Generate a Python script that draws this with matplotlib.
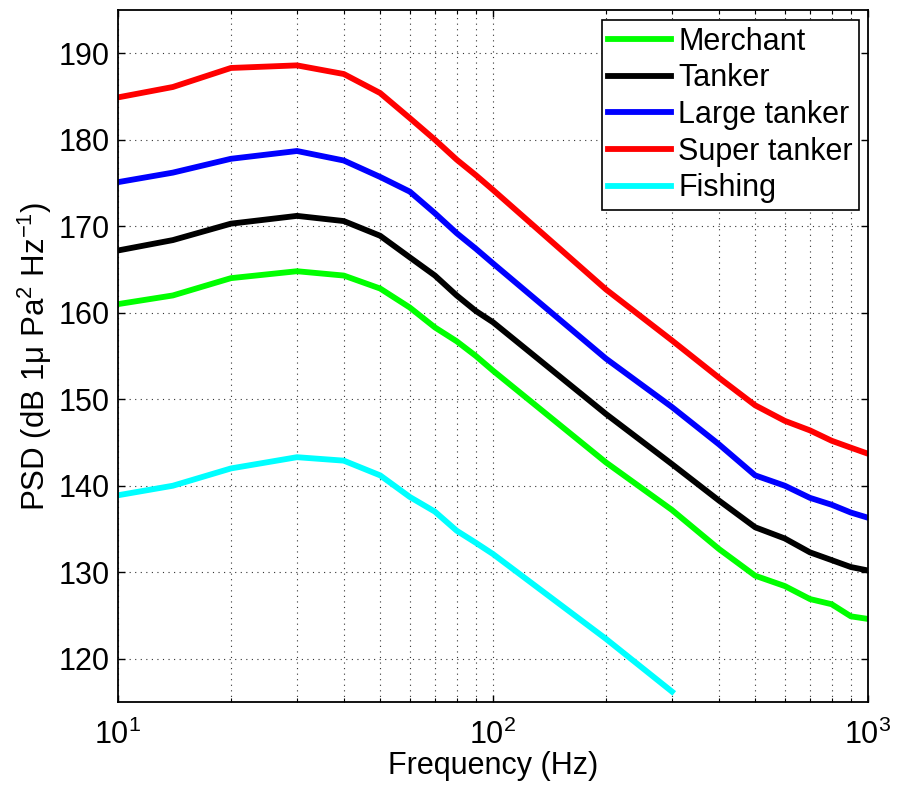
import matplotlib
matplotlib.use('Agg')
import matplotlib.pyplot as plt
from matplotlib.ticker import LogLocator, FixedLocator, NullFormatter

plt.rcParams['font.family'] = ['Liberation Sans', 'DejaVu Sans']
plt.rcParams['mathtext.fontset'] = 'custom'
plt.rcParams['mathtext.rm'] = 'Liberation Sans'
plt.rcParams['mathtext.it'] = 'Liberation Sans:italic'
plt.rcParams['mathtext.bf'] = 'Liberation Sans:bold'

# frequency points (Hz)
freq = [10, 14, 20, 30, 40, 50, 60, 70, 80, 90, 100,
        200, 300, 400, 500, 600, 700, 800, 900, 1000]
freq_fishing = freq[:13]

# PSD values (dB)
merchant = [161.0, 162.0, 164.0, 164.8, 164.3, 162.8, 160.6, 158.3, 156.7, 155.0, 153.3,
            142.7, 137.2, 132.7, 129.6, 128.4, 126.9, 126.3, 124.9, 124.6]
tanker = [167.2, 168.4, 170.3, 171.2, 170.6, 168.9, 166.4, 164.3, 162.0, 160.2, 158.9,
          148.3, 142.5, 138.3, 135.2, 133.9, 132.3, 131.4, 130.6, 130.2]
large_tanker = [175.1, 176.2, 177.8, 178.7, 177.6, 175.7, 174.0, 171.5, 169.2, 167.4, 165.7,
                154.7, 149.1, 144.8, 141.2, 140.0, 138.6, 137.8, 136.9, 136.3]
super_tanker = [184.9, 186.1, 188.3, 188.6, 187.6, 185.4, 182.5, 180.0, 177.7, 175.9, 174.2,
                162.7, 156.8, 152.5, 149.3, 147.5, 146.4, 145.2, 144.4, 143.7]
fishing = [138.9, 140.0, 142.0, 143.3, 142.9, 141.2, 138.7, 137.0, 134.8, 133.4, 132.1,
           122.3, 116.2]

labels = ['Merchant', 'Tanker', 'Large tanker', 'Super tanker', 'Fishing']
colors = ['#00ff00', 'black', '#0000ff', '#ff0000', '#00ffff']
yticks = [120, 130, 140, 150, 160, 170, 180, 190]

fig = plt.figure(figsize=(8.97, 7.89), dpi=100)
ax = fig.add_axes([0.1316, 0.1103, 0.8361, 0.877])

series = [(freq, merchant), (freq, tanker), (freq, large_tanker),
          (freq, super_tanker), (freq_fishing, fishing)]
for (f, v), lab, c in zip(series, labels, colors):
    ax.plot(f, v, color=c, lw=4.2, label=lab, solid_joinstyle='round')

ax.set_xscale('log')
ax.set_xlim(10, 1000)
ax.set_ylim(115, 195)
ax.set_yticks(yticks)
ax.xaxis.set_major_locator(FixedLocator([10, 100, 1000]))
ax.xaxis.set_minor_locator(LogLocator(base=10, subs=range(2, 10)))
ax.xaxis.set_minor_formatter(NullFormatter())
ax.set_xticklabels([r'$10^1$', r'$10^2$', r'$10^3$'])

ax.grid(True, which='major', axis='both', linestyle=(0, (1, 4)), color='#333333', lw=0.8)
ax.grid(True, which='minor', axis='x', linestyle=(0, (1, 4)), color='#333333', lw=0.8)

ax.tick_params(which='both', direction='in', top=True, right=True, labelsize=22)
ax.tick_params(which='major', length=5, width=1)
ax.tick_params(which='minor', length=3, width=0.8)
ax.tick_params(axis='x', pad=13)
ax.tick_params(axis='y', pad=6)
for s in ax.spines.values():
    s.set_linewidth(1.3)

ax.set_xlabel('Frequency (Hz)', fontsize=22, labelpad=0)
ax.set_ylabel('PSD (dB 1μ Pa$^2$ Hz$^{-1}$)', fontsize=22.5, labelpad=3)

leg = ax.legend(loc='upper right', bbox_to_anchor=(0.988, 0.985), fontsize=22,
                handlelength=2.05, handletextpad=0.25, labelspacing=0.22,
                borderpad=0.2, borderaxespad=0, fancybox=False,
                edgecolor='black', framealpha=1)
leg.get_frame().set_linewidth(1.2)

fig.savefig('out.png', dpi=100)
